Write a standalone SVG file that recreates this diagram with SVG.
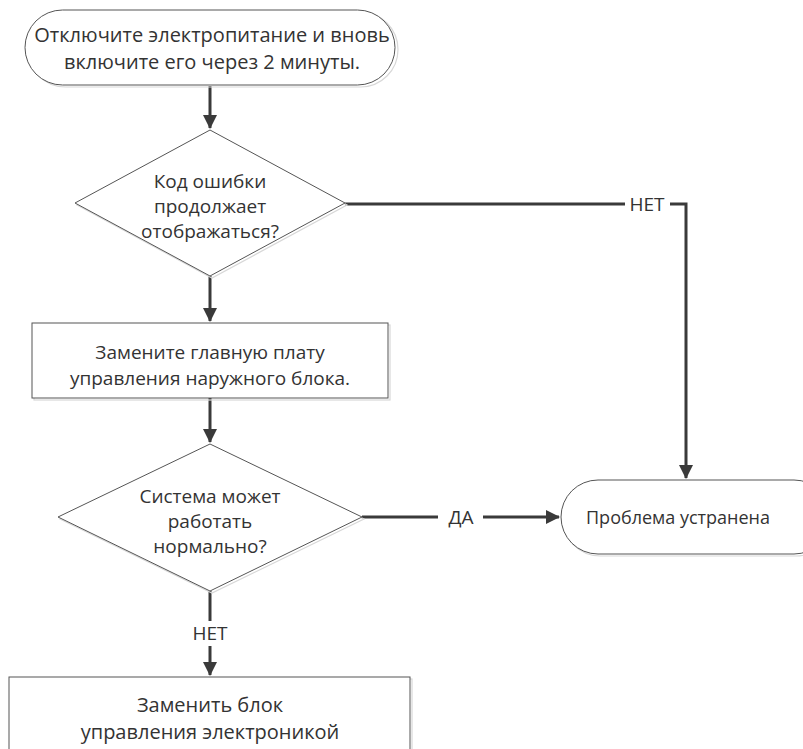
<svg xmlns="http://www.w3.org/2000/svg" width="803" height="749" viewBox="0 0 803 749">
<defs>
<marker id="arr" markerWidth="16" markerHeight="16" refX="13" refY="7" orient="auto" markerUnits="userSpaceOnUse">
<path d="M0,0 L14,7 L0,14 Z" fill="#3a3a3a"/>
</marker>
<style>
.sh{fill:none;stroke:#d8d8d8;stroke-width:1.2}
.nd{fill:#fff;stroke:#555;stroke-width:1}
.t{font-family:"Open Sans","Noto Sans","Liberation Sans",sans-serif;font-size:20px;fill:#333;text-anchor:middle}
.s19{font-size:19px}
.s18{font-size:18px}
.c{fill:none;stroke:#3a3a3a;stroke-width:3}
</style>
</defs>
<rect width="803" height="749" fill="#fff"/>
<g id="connectors">
<path class="c" d="M210,86 V128" marker-end="url(#arr)"/>
<path class="c" d="M210,276 V321" marker-end="url(#arr)"/>
<path class="c" d="M210,398 V442" marker-end="url(#arr)"/>
<path class="c" d="M345,204 H625"/>
<path class="c" d="M670,204 H686 V478" marker-end="url(#arr)"/>
<path class="c" d="M362,517 H438"/>
<path class="c" d="M483,517 H559" marker-end="url(#arr)"/>
<path class="c" d="M210,591 V621"/>
<path class="c" d="M210,646 V675" marker-end="url(#arr)"/>
<text class="t s19" x="647" y="211">НЕТ</text>
<text class="t s19" x="461" y="524">ДА</text>
<text class="t s19" x="210" y="640">НЕТ</text>
</g>
<g id="start">
<rect class="sh" x="28" y="12" width="370" height="75" rx="37.5"/>
<rect class="nd" x="25" y="10" width="370" height="75" rx="37.5"/>
<text class="t" x="212" y="42">Отключите электропитание и вновь</text>
<text class="t" x="212" y="69">включите его через 2 минуты.</text>
</g>
<g id="decision1">
<path class="sh" d="M212,132 L347,205 L212,278 L77,205 Z"/>
<path class="nd" d="M210,130 L345,203 L210,276 L75,203 Z"/>
<text class="t s19" x="210" y="188">Код ошибки</text>
<text class="t s19" x="210" y="213">продолжает</text>
<text class="t s19" x="210" y="238">отображаться?</text>
</g>
<g id="replace-board">
<rect class="sh" x="34" y="325" width="356" height="75"/>
<rect class="nd" x="32" y="323" width="356" height="75"/>
<text class="t s19" x="210" y="359">Замените главную плату</text>
<text class="t s19" x="210" y="385">управления наружного блока.</text>
</g>
<g id="decision2">
<path class="sh" d="M212,446 L364,519 L212,593 L60,519 Z"/>
<path class="nd" d="M210,444 L362,517 L210,591 L58,517 Z"/>
<text class="t s19" x="210" y="503">Система может</text>
<text class="t s19" x="210" y="528">работать</text>
<text class="t s19" x="210" y="553">нормально?</text>
</g>
<g id="solved">
<rect class="sh" x="563" y="482" width="270" height="74" rx="37"/>
<rect class="nd" x="561" y="480" width="270" height="74" rx="37"/>
<text class="t s18" x="678" y="524">Проблема устранена</text>
</g>
<g id="replace-ecu">
<rect class="sh" x="11" y="679" width="401" height="80"/>
<rect class="nd" x="9" y="677" width="401" height="80"/>
<text class="t" x="210" y="712">Заменить блок</text>
<text class="t" x="210" y="739">управления электроникой</text>
</g>
</svg>
